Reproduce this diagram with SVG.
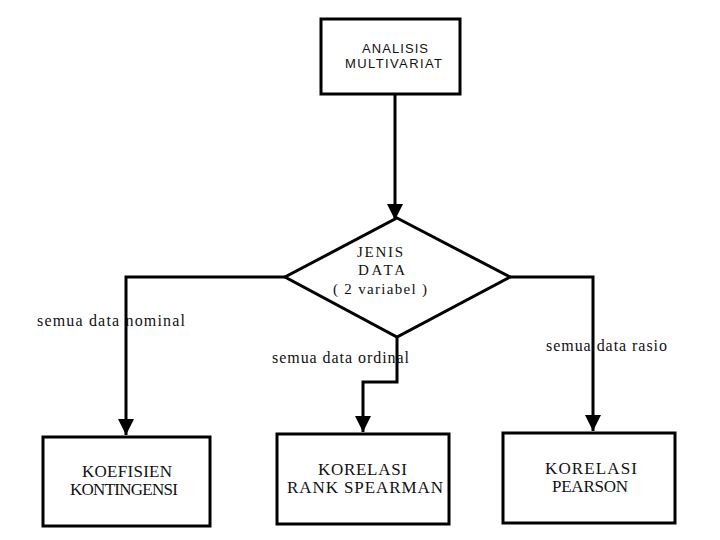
<svg xmlns="http://www.w3.org/2000/svg" width="720" height="540" viewBox="0 0 720 540">
<defs>
<style>
.box{fill:#fff;stroke:#000;stroke-width:3}
.ln{fill:none;stroke:#000;stroke-width:3}
.sans{font-family:"Liberation Sans",Arial,sans-serif;font-size:13px;fill:#111}
.serif{font-family:"Liberation Serif","Times New Roman",serif;font-size:17px;fill:#111}
.dia{font-family:"Liberation Serif","Times New Roman",serif;font-size:15px;fill:#111}
.lbl{font-family:"Liberation Serif","Times New Roman",serif;font-size:16px;fill:#111}
</style>
<marker id="ah" viewBox="0 0 10 10" refX="10" refY="5" markerWidth="5.5" markerHeight="5.5" orient="auto" markerUnits="strokeWidth">
<path d="M0,0 L10,5 L0,10 z" fill="#000"/>
</marker>
</defs>
<rect width="720" height="540" fill="#fff"/>
<g id="connectors">
<path class="ln" d="M395,94 V220" marker-end="url(#ah)"/>
<path class="ln" d="M285,277 H126 V435" marker-end="url(#ah)"/>
<path class="ln" d="M397,337 V382 H363 V432" marker-end="url(#ah)"/>
<path class="ln" d="M510,277 H593 V431" marker-end="url(#ah)"/>
</g>
<g id="analisis">
<rect class="box" x="321" y="19" width="139" height="75"/>
<text class="sans" x="362" y="53" textLength="66">ANALISIS</text>
<text class="sans" x="345" y="68" textLength="97">MULTIVARIAT</text>
</g>
<g id="jenis">
<polygon class="box" points="397,218 510,277 397,337 285,277" stroke-width="2.5"/>
<text class="dia" x="357" y="257" textLength="46">JENIS</text>
<text class="dia" x="358" y="275" textLength="47">DATA</text>
<text class="dia" x="333" y="294" textLength="94">( 2 variabel )</text>
</g>
<g id="labels">
<text class="lbl" x="37" y="326" textLength="148">semua data nominal</text>
<text class="lbl" x="272" y="363" textLength="137">semua data ordinal</text>
<text class="lbl" x="546" y="351" textLength="121">semua data rasio</text>
</g>
<g id="koefisien">
<rect class="box" x="43" y="437" width="167" height="89"/>
<text class="serif" x="82" y="477" textLength="90">KOEFISIEN</text>
<text class="serif" x="70" y="495" textLength="108">KONTINGENSI</text>
</g>
<g id="spearman">
<rect class="box" x="277" y="434" width="172" height="90"/>
<text class="serif" x="318" y="475" textLength="89">KORELASI</text>
<text class="serif" x="287" y="493" textLength="156">RANK SPEARMAN</text>
</g>
<g id="pearson">
<rect class="box" x="503" y="433" width="172" height="90"/>
<text class="serif" x="545" y="474" textLength="92">KORELASI</text>
<text class="serif" x="552" y="492" textLength="76">PEARSON</text>
</g>
</svg>
